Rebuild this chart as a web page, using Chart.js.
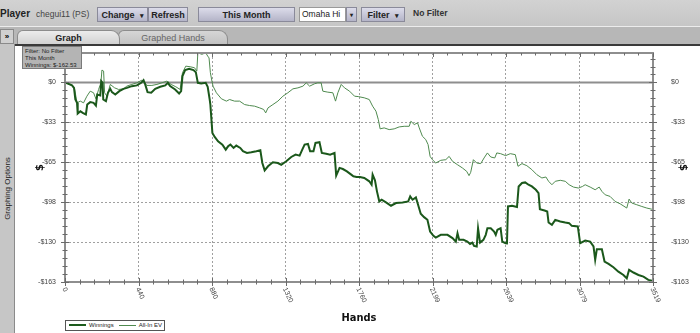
<!DOCTYPE html>
<html>
<head>
<meta charset="utf-8">
<script src="https://cdn.jsdelivr.net/npm/chart.js@4.4.0/dist/chart.umd.min.js"></script>
<style>
  body { margin: 0; width: 700px; height: 333px; overflow: hidden; position: relative; background: #b9b9b9; font-family: "Liberation Sans", sans-serif; }
  .abs { position: absolute; }
  #toolbar { left: 0; top: 0; width: 700px; height: 26px; background: linear-gradient(#d2d2d2, #c6c6c6); border-bottom: 1px solid #ececec; }
  .txt { position: absolute; font-size: 9px; color: #333; white-space: nowrap; }
  .btn { position: absolute; top: 7px; height: 15px; line-height: 14px; font-size: 9px; font-weight: bold; color: #222; text-align: center; white-space: nowrap;
         background: linear-gradient(#dcdcea, #b4b4c8); border: 1px solid #8a8a9a; box-sizing: border-box; }
  .btn small { font-size: 7px; margin-left: 5px; }
  #tabrow { left: 0; top: 27px; width: 700px; height: 17px; background: #b7b7b7; }
  .tab { position: absolute; top: 30px; height: 14px; line-height: 14px; font-size: 9px; text-align: center; border: 1px solid #8c8c8c; border-bottom: none; border-radius: 6px 9px 0 0; box-sizing: border-box; }
  #side { left: 0; top: 44px; width: 14px; height: 289px; background: #c6c6c6; border-right: 1px solid #8a8a8a; }
  #sideLabel { left: -44px; top: 184px; width: 102px; font-size: 8px; color: #222; transform: rotate(-90deg); text-align: center; }
  #panel { left: 15px; top: 44px; width: 685px; height: 289px; background: #fff; border-top: 2px solid #3a3a3a; box-sizing: border-box; }
  #info { left: 22px; top: 46px; width: 60px; height: 23px; background: #b4b4b4; border: 1px solid #7a7a7a; box-sizing: border-box;
          font-size: 6px; line-height: 7px; color: #222; padding: 1px 2px; z-index: 3; }
  #legend { left: 65px; top: 320px; width: 100px; height: 11px; border: 1px solid #555; background: #fff; box-sizing: border-box; z-index: 3;
            font-size: 6px; line-height: 9px; color: #222; }
  #legend i { display: inline-block; vertical-align: middle; width: 17px; margin: 0 3px 0 3px; }
  canvas { position: absolute; left: 15px; top: 45px; }
</style>
</head>
<body>
<div id="toolbar" class="abs">
  <span class="txt" style="left:0;top:8px;font-size:10px;font-weight:bold;color:#222">Player</span>
  <span class="txt" style="left:36px;top:9px;font-size:8.5px;color:#444">chegui11 (PS)</span>
  <div class="btn" style="left:97px;width:51px">Change<small>▾</small></div>
  <div class="btn" style="left:148px;width:40px">Refresh</div>
  <div class="btn" style="left:198px;width:97px">This Month</div>
  <div class="abs" style="left:299px;top:7px;width:47px;height:15px;background:#fff;border:1px solid #999;box-sizing:border-box;font-size:8.5px;line-height:13px;padding-left:2px;color:#222">Omaha Hi</div>
  <div class="btn" style="left:346px;width:11px;font-size:6px">▾</div>
  <div class="btn" style="left:361px;width:44px">Filter<small>▾</small></div>
  <span class="txt" style="left:413px;top:8px;font-size:8.5px;color:#333;font-weight:bold">No Filter</span>
</div>
<div id="tabrow" class="abs">
  <div class="abs" style="left:0;top:2px;width:14px;height:15px;background:#d0d0d0;border:1px solid #8a8a8a;box-sizing:border-box;font-size:8px;font-weight:bold;text-align:center;line-height:13px">»</div>
</div>
<div class="tab" style="left:118px;width:110px;background:linear-gradient(#d6d6d6,#c2c2c2);color:#666">Graphed Hands</div>
<div class="tab" style="left:17px;width:103px;background:linear-gradient(#ececec,#d2d2d2);font-weight:bold;color:#222;z-index:2">Graph</div>
<div id="side" class="abs"></div>
<div id="sideLabel" class="abs">Graphing Options</div>
<div id="panel" class="abs"></div>
<div id="info" class="abs">Filter: No Filter<br>This Month<br>Winnings: $-162.53</div>
<div id="legend" class="abs"><i style="border-top:2px solid #1d5c1d"></i>Winnings<i style="border-top:1px solid #4f8a4f;margin-left:5px"></i>All-In EV</div>
<canvas id="chart" width="685" height="288"></canvas>
<script>
'use strict';

const winHands = [0, 42, 54, 62, 72, 76, 92, 106, 125, 133, 151, 171, 185, 193, 211, 217, 225, 229, 245, 257, 271, 281, 301, 325, 350, 370, 400, 430, 456, 470, 480, 494, 516, 540, 570, 600, 616, 629, 659, 683, 695, 703, 719, 743, 769, 783, 795, 815, 842, 854, 866, 870, 882, 896, 916, 942, 962, 976, 990, 1009, 1025, 1049, 1065, 1089, 1115, 1145, 1169, 1181, 1195, 1215, 1244, 1274, 1294, 1324, 1354, 1380, 1404, 1420, 1434, 1454, 1467, 1487, 1499, 1523, 1537, 1563, 1587, 1613, 1623, 1643, 1663, 1687, 1713, 1726, 1745, 1765, 1791, 1821, 1835, 1841, 1855, 1867, 1881, 1895, 1921, 1951, 1981, 2020, 2054, 2066, 2080, 2100, 2113, 2129, 2149, 2169, 2185, 2205, 2219, 2249, 2289, 2319, 2339, 2349, 2359, 2385, 2408, 2424, 2438, 2448, 2464, 2472, 2484, 2504, 2518, 2528, 2548, 2568, 2578, 2588, 2607, 2617, 2637, 2645, 2651, 2675, 2705, 2715, 2735, 2754, 2774, 2794, 2818, 2834, 2842, 2870, 2886, 2894, 2914, 2934, 2964, 2994, 3017, 3033, 3069, 3083, 3113, 3143, 3163, 3173, 3183, 3213, 3229, 3253, 3282, 3312, 3342, 3362, 3376, 3402, 3432, 3462, 3491, 3511, 3519];
const winValues = [0, -2.4, -4.4, -13.9, -16.6, -25.3, -23.4, -24.8, -26.1, -18, -16, -16.6, -18.8, -9.8, -10.6, 1.1, -0.3, -13.9, -15.2, -8.4, -5.2, -7.9, -9.8, -7.1, -5.2, -4.4, -3, -2.4, -0.3, 1.9, -1.6, -7.9, -8.4, -5.2, -3.5, -2.4, -0.3, -3, -5.7, -9, -7.1, 5.2, 10.1, 11.2, 10.1, 8.4, -0.3, -0.8, -0.3, -3.5, -13.9, -18, -41.1, -44.4, -47.9, -50.6, -54.7, -52, -50.6, -53.3, -51.4, -53.3, -56, -57.4, -56.9, -56, -55.2, -65.6, -71.6, -68.3, -65, -65.6, -67, -64.2, -60.7, -58.8, -59.6, -54.7, -50.6, -50.1, -56, -56, -49.3, -48.7, -57.4, -58, -58.8, -57.4, -75.9, -69.6, -70.5, -72.4, -75.1, -76.4, -77, -77, -77.8, -80.5, -83.3, -75.1, -79.7, -88.7, -96.9, -95.5, -97.7, -100.4, -98.2, -97.7, -96.9, -92.8, -95.5, -93.6, -99.6, -107, -109.7, -111.9, -121.4, -124.9, -126.3, -124.1, -124.1, -126.8, -129.6, -122.8, -128.2, -128.2, -129.6, -131.5, -130.4, -133.1, -133.6, -118.7, -130.4, -128.2, -124.1, -118.7, -118.7, -121.4, -124.1, -120, -118.7, -129.6, -130.9, -131, -101, -100.4, -101.5, -84.7, -81.9, -81.4, -83.3, -84.7, -87.4, -90.1, -103.2, -104.3, -105.1, -114.1, -116, -111.9, -113.2, -114.1, -114.6, -116.8, -117.3, -130.9, -128.8, -129.6, -133.6, -144.5, -135.8, -135.8, -145.9, -147.8, -150.5, -154.1, -156.8, -159.5, -152.6, -154.8, -156.8, -158.1, -160.8, -161.4, -162.53];

const evHands = [0, 42, 58, 72, 92, 111, 131, 151, 171, 185, 201, 215, 221, 231, 237, 251, 271, 297, 321, 350, 370, 400, 430, 460, 490, 520, 550, 580, 610, 635, 663, 689, 703, 723, 749, 775, 789, 795, 819, 842, 854, 862, 870, 878, 886, 906, 936, 966, 985, 1015, 1045, 1075, 1105, 1135, 1165, 1189, 1201, 1215, 1244, 1274, 1304, 1334, 1364, 1394, 1424, 1444, 1464, 1493, 1513, 1533, 1543, 1573, 1603, 1619, 1633, 1653, 1673, 1703, 1733, 1755, 1791, 1821, 1841, 1861, 1875, 1886, 1910, 1940, 1970, 2000, 2030, 2060, 2070, 2090, 2110, 2120, 2139, 2159, 2173, 2185, 2199, 2219, 2249, 2279, 2299, 2319, 2349, 2378, 2404, 2418, 2428, 2444, 2464, 2488, 2508, 2528, 2548, 2572, 2584, 2607, 2637, 2665, 2695, 2711, 2735, 2764, 2794, 2824, 2854, 2878, 2894, 2914, 2934, 2964, 2994, 3017, 3043, 3073, 3097, 3113, 3143, 3173, 3197, 3213, 3233, 3262, 3292, 3322, 3362, 3376, 3392, 3422, 3452, 3482, 3511, 3519];
const evValues = [0, -2.4, -5.7, -16.6, -15.2, -16.6, -11.2, -7.1, -8.4, -13.3, -5.7, -0.3, 10.1, 9.3, -8.4, -11.2, -1.6, -4.4, -5.7, -5.2, -3, -1.6, -0.3, 1.9, -2.4, -2.4, -1.6, -0.3, 1.1, -1.6, -3.5, -5.7, 7.9, 13.3, 12.8, 12, 9.3, 24.2, 22.9, 24.2, 21.5, 20, 8, 2, -3, -8.4, -13.3, -15.2, -13.9, -15.2, -15.2, -18, -18.8, -19.3, -20.7, -22, -24.8, -20.7, -18, -15.2, -11.2, -8.4, -5.2, -4.4, -3, -0.3, -3, -1.1, -0.3, -0.3, -7.1, -7.9, -8.4, -15.2, -8.4, -1.6, -4.4, -7.1, -11.2, -11.5, -12.5, -13.9, -19.3, -23.4, -30.2, -37.8, -37, -38.4, -37.8, -36.2, -35.7, -35.7, -31.6, -34.3, -32.9, -37, -43.8, -46.5, -50.6, -60.2, -62.9, -65.6, -63.4, -62.9, -60.2, -64.2, -67, -69.6, -72.4, -75.9, -73.2, -62.9, -65.6, -66.1, -61.5, -57.4, -60.7, -61.5, -57.4, -58, -59.6, -58, -58.8, -68.3, -66.1, -67.8, -71, -75.1, -77.8, -77, -80.5, -83.3, -80.5, -79.7, -80.5, -83.3, -85.2, -86, -84.7, -83.3, -85.2, -87.4, -85.2, -88.7, -91.5, -92.8, -96.9, -98.8, -102.3, -95, -98.2, -99.6, -101, -102.3, -103.2, -103.5];

const handTicks = [0, 440, 880, 1320, 1760, 2199, 2639, 3079, 3519];
const dollarTicks = [0, -32.5, -65, -97.5, -130, -162.53];
const dollarLabels = ['$0', '-$33', '-$65', '-$98', '-$130', '-$163'];
const dollarMax = 24;

function toPoints(xs, ys) {
  const pts = [];
  for (let i = 0; i < xs.length; i++) {
    pts.push({ x: xs[i], y: ys[i] });
  }
  return pts;
}

const tickFont = { family: 'Liberation Sans', size: 7 };
const titleFont = { family: 'DejaVu Sans Condensed', size: 11, weight: 'bold' };

// y axes should not ask the layout for extra room above/below the plot
function fixWidth(w) {
  return (scale) => {
    scale.width = w;
    scale.paddingTop = 0;
    scale.paddingBottom = 0;
  };
}

// zero line, frame, tick crosses on every edge and the slanted hand labels
const frameTicks = {
  id: 'frameTicks',
  beforeDatasetsDraw(chart) {
    const { ctx, chartArea: a, scales: { y } } = chart;
    const zy = y.getPixelForValue(0);
    ctx.save();
    ctx.strokeStyle = '#8e8e8e';
    ctx.lineWidth = 2;
    ctx.beginPath();
    ctx.moveTo(a.left, zy);
    ctx.lineTo(a.right, zy);
    ctx.stroke();
    ctx.restore();
  },
  afterDraw(chart) {
    const { ctx, chartArea: a, scales: { x, y } } = chart;
    ctx.save();
    ctx.strokeStyle = '#8e8e8e';
    ctx.lineWidth = 2;
    ctx.strokeRect(a.left, a.top, a.right - a.left, a.bottom - a.top);
    ctx.strokeStyle = '#6a6a6a';
    ctx.lineWidth = 1;
    const yStep = (dollarTicks[1] - dollarTicks[0]) / 5;
    for (let i = -4; i <= 25; i++) {
      const v = i * yStep;
      if (v > dollarMax || v < dollarTicks[dollarTicks.length - 1] - 0.01) continue;
      const py = Math.round(y.getPixelForValue(v)) + 0.5;
      const len = i % 5 === 0 ? 4 : 2.5;
      ctx.beginPath();
      ctx.moveTo(a.left - len, py); ctx.lineTo(a.left + len, py);
      ctx.moveTo(a.right - len, py); ctx.lineTo(a.right + len, py);
      ctx.stroke();
    }
    const xStep = (handTicks[handTicks.length - 1] - handTicks[0]) / 40;
    for (let i = 0; i <= 40; i++) {
      const px = Math.round(x.getPixelForValue(i * xStep)) + 0.5;
      const len = i % 5 === 0 ? 4 : 2.5;
      ctx.beginPath();
      ctx.moveTo(px, a.bottom - len); ctx.lineTo(px, a.bottom + len);
      ctx.moveTo(px, a.top); ctx.lineTo(px, a.top + len);
      ctx.stroke();
    }
    // hand labels run downwards to the right from each tick
    ctx.fillStyle = '#444';
    ctx.font = '7px "Liberation Sans"';
    ctx.textAlign = 'left';
    ctx.textBaseline = 'middle';
    handTicks.forEach((h) => {
      ctx.save();
      ctx.translate(x.getPixelForValue(h) - 1, a.bottom + 6);
      ctx.rotate(65 * Math.PI / 180);
      ctx.fillText(String(h), 0, 0);
      ctx.restore();
    });
    ctx.restore();
  }
};

new Chart(document.getElementById('chart'), {
  type: 'line',
  data: {
    datasets: [{
      label: 'Winnings',
      data: toPoints(winHands, winValues),
      borderColor: '#1b581b',
      borderWidth: 2,
      pointRadius: 0,
      tension: 0
    }, {
      label: 'All-In EV',
      data: toPoints(evHands, evValues),
      borderColor: '#4f8a4f',
      borderWidth: 1,
      pointRadius: 0,
      tension: 0
    }]
  },
  options: {
    responsive: false,
    animation: false,
    layout: { padding: { left: 15, right: 7, top: 8, bottom: 8 } },
    plugins: { legend: { display: false }, tooltip: { enabled: false } },
    scales: {
      x: {
        type: 'linear',
        min: 0,
        max: 3519,
        afterBuildTicks: (scale) => { scale.ticks = handTicks.map(v => ({ value: v })); },
        afterFit: (scale) => { scale.height = 43; scale.paddingLeft = 0; scale.paddingRight = 0; },
        ticks: { display: false },
        grid: { color: '#a0a0a0', drawTicks: false },
        border: { display: false, dash: [2, 2] },
        title: { display: true, text: 'Hands', font: titleFont, color: '#111', padding: { top: 0, bottom: 0 } }
      },
      y: {
        position: 'left',
        min: dollarTicks[dollarTicks.length - 1],
        max: dollarMax,
        afterBuildTicks: (scale) => { scale.ticks = dollarTicks.map(v => ({ value: v })); },
        afterFit: fixWidth(35),
        ticks: { font: tickFont, color: '#444', padding: 9, callback: (v, i) => dollarLabels[i] },
        grid: { color: (c) => (c.tick && c.tick.value === 0 ? 'transparent' : '#a0a0a0'), drawTicks: false },
        border: { display: false, dash: [2, 2] },
        title: { display: true, text: '$', font: titleFont, color: '#111', padding: { top: 4, bottom: 0 } }
      },
      y2: {
        position: 'right',
        min: dollarTicks[dollarTicks.length - 1],
        max: dollarMax,
        afterBuildTicks: (scale) => { scale.ticks = dollarTicks.map(v => ({ value: v })); },
        afterFit: fixWidth(40),
        ticks: { font: tickFont, color: '#444', padding: 10, callback: (v, i) => dollarLabels[i] },
        grid: { display: false },
        border: { display: false },
        title: { display: true, text: '$', font: titleFont, color: '#111', padding: { top: 4, bottom: 0 } }
      }
    }
  },
  plugins: [frameTicks]
});
</script>
</body>
</html>
